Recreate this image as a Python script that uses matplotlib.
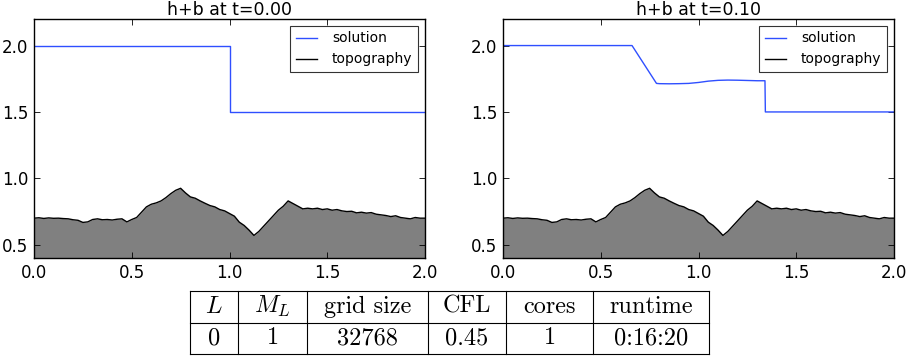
import numpy as np
import matplotlib
matplotlib.use('Agg')
import matplotlib.pyplot as plt

plt.rcParams['mathtext.fontset'] = 'cm'

# topography b(x)
x_topo = np.linspace(0.0, 2.0, 81)
b_topo = [0.700, 0.703, 0.698, 0.702, 0.699, 0.700, 0.697, 0.695, 0.688, 0.684,
          0.668, 0.672, 0.690, 0.695, 0.688, 0.690, 0.686, 0.692, 0.695, 0.672,
          0.690, 0.705, 0.745, 0.785, 0.805, 0.815, 0.830, 0.855, 0.885, 0.910,
          0.925, 0.890, 0.860, 0.850, 0.830, 0.812, 0.795, 0.785, 0.765, 0.755,
          0.735, 0.715, 0.670, 0.645, 0.610, 0.570, 0.600, 0.640, 0.680, 0.720,
          0.760, 0.790, 0.830, 0.810, 0.790, 0.770, 0.775, 0.770, 0.775, 0.765,
          0.770, 0.760, 0.765, 0.755, 0.750, 0.752, 0.740, 0.745, 0.738, 0.742,
          0.730, 0.725, 0.720, 0.712, 0.718, 0.705, 0.700, 0.695, 0.705, 0.700,
          0.700]

# h+b at t=0.00
x_sol0 = [0.0, 1.0, 1.0, 2.0]
h_sol0 = [2.0, 2.0, 1.5, 1.5]

# h+b at t=0.10
x_sol1 = [0.0, 0.66, 0.785, 0.80, 0.85, 0.90, 0.95, 1.00,
          1.05, 1.10, 1.15, 1.20, 1.25, 1.30, 1.34, 1.342, 2.0]
h_sol1 = [2.0, 2.0, 1.715, 1.713, 1.712, 1.713, 1.715, 1.722,
          1.732, 1.738, 1.740, 1.739, 1.737, 1.735, 1.735, 1.5, 1.5]

times = ['0.00', '0.10']

# table contents
tab_head = ['$L$', '$M_L$', 'grid size', 'CFL', 'cores', 'runtime']
tab_row = ['0', '1', '32768', '0.45', '1', '0:16:20']


def draw_panel(ax, xs, hs, t):
    ax.fill_between(x_topo, 0, b_topo, color='#808080', lw=0)
    ax.plot(xs, hs, color='#2f4fff', lw=1.0, label='solution')
    ax.plot(x_topo, b_topo, color='black', lw=1.0, label='topography')
    ax.set_xlim(0, 2)
    ax.set_ylim(0.4, 2.2)
    ax.set_xticks([0.0, 0.5, 1.0, 1.5, 2.0])
    ax.set_yticks([0.5, 1.0, 1.5, 2.0])
    ax.tick_params(direction='in', top=True, right=True, length=4, width=0.6,
                   labelsize=12, pad=4)
    for s in ax.spines.values():
        s.set_linewidth(1.0)
    ax.set_title('h+b at t=' + t, fontsize=12.5, pad=3)
    leg = ax.legend(loc='upper right', fontsize=10, fancybox=False,
                    handlelength=1.5, borderpad=0.4, labelspacing=0.5,
                    borderaxespad=0.5, handletextpad=1.1)
    leg.get_frame().set_edgecolor('black')
    leg.get_frame().set_linewidth(0.8)


def draw_table(fig):
    W, H = 911.0, 360.0
    x0, x1, y0, y1 = 190, 709, 291, 354
    ax = fig.add_axes([x0 / W, 1 - y1 / H, (x1 - x0) / W, (y1 - y0) / H])
    ax.set_xlim(x0, x1)
    ax.set_ylim(y1, y0)
    ax.axis('off')
    cols = [190, 238, 307, 428, 506, 593, 709]
    rows = [291, 322.5, 354]
    for c in cols:
        ax.plot([c, c], [rows[0], rows[-1]], color='black', lw=0.8, clip_on=False)
    for r in rows:
        ax.plot([cols[0], cols[-1]], [r, r], color='black', lw=0.8, clip_on=False)
    for i in range(len(tab_head)):
        xc = 0.5 * (cols[i] + cols[i + 1])
        for j, txt in enumerate([tab_head[i], tab_row[i]]):
            yc = 0.5 * (rows[j] + rows[j + 1])
            ax.text(xc, yc, txt, ha='center', va='center', fontsize=17.5,
                    family='cmr10')


def main():
    fig = plt.figure(figsize=(9.11, 3.6), dpi=100)
    W, H = 911.0, 360.0
    ax1 = fig.add_axes([34 / W, 1 - 258 / H, 391 / W, 239 / H])
    ax2 = fig.add_axes([503 / W, 1 - 258 / H, 391 / W, 239 / H])
    draw_panel(ax1, x_sol0, h_sol0, times[0])
    draw_panel(ax2, x_sol1, h_sol1, times[1])
    draw_table(fig)
    fig.savefig('out.png', dpi=100)


if __name__ == '__main__':
    main()
